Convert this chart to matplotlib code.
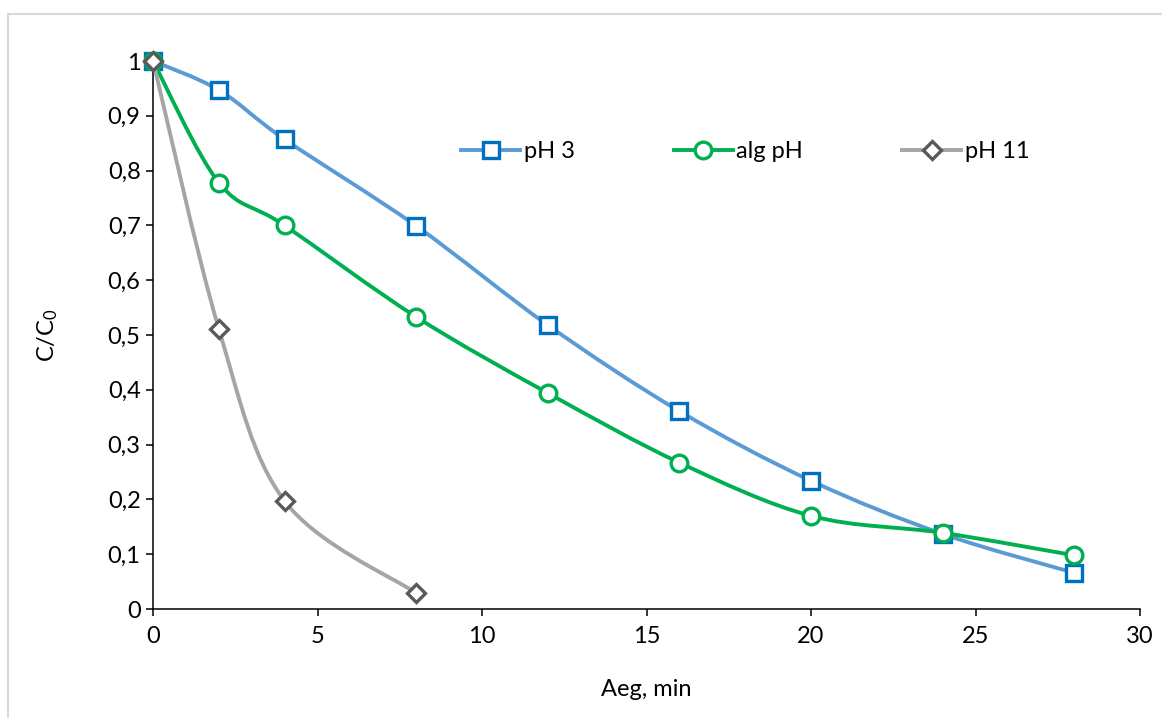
import matplotlib
matplotlib.use('Agg')
import matplotlib.pyplot as plt
from matplotlib.path import Path
from matplotlib.patches import PathPatch
from matplotlib.lines import Line2D

plt.rcParams['font.family'] = ['Lato', 'DejaVu Sans']
plt.rcParams['mathtext.default'] = 'regular'

# andmed
time = [0, 2, 4, 8, 12, 16, 20, 24, 28]
ph3 = [1.0, 0.947, 0.857, 0.699, 0.518, 0.361, 0.234, 0.137, 0.066]
alg_ph = [1.0, 0.778, 0.700, 0.533, 0.394, 0.267, 0.170, 0.139, 0.098]
time_ph11 = [0, 2, 4, 8]
ph11 = [1.0, 0.511, 0.197, 0.029]


def smooth_path(x, y):
    # Excel-laadne sujuv joon (Bezier, Catmull-Rom kontrollpunktid)
    verts = [(x[0], y[0])]
    codes = [Path.MOVETO]
    n = len(x)
    for i in range(n - 1):
        x0, y0 = (x[i - 1], y[i - 1]) if i > 0 else (x[i], y[i])
        x3, y3 = (x[i + 2], y[i + 2]) if i + 2 < n else (x[i + 1], y[i + 1])
        c1 = (x[i] + (x[i + 1] - x0) / 6, y[i] + (y[i + 1] - y0) / 6)
        c2 = (x[i + 1] - (x3 - x[i]) / 6, y[i + 1] - (y3 - y[i]) / 6)
        verts += [c1, c2, (x[i + 1], y[i + 1])]
        codes += [Path.CURVE4] * 3
    return Path(verts, codes)


fig = plt.figure(figsize=(11.62, 7.18), dpi=100)
ax = fig.add_axes([0.1317, 0.1518, 0.8494, 0.7632])

series = [
    (time, ph3, 'pH 3', '#5B9BD5', 's', '#0070C0', 11),
    (time, alg_ph, 'alg pH', '#00B050', 'o', '#00B050', 12),
    (time_ph11, ph11, 'pH 11', '#A5A5A5', 'D', '#595959', 9.5),
]

handles = []
for k, (xs, ys, label, lc, mk, mc, ms) in enumerate(series):
    patch = PathPatch(smooth_path(xs, ys), facecolor='none', edgecolor=lc,
                      lw=2.8, zorder=3 + 2 * k, capstyle='round')
    ax.add_patch(patch)
    ax.plot(xs, ys, linestyle='none', marker=mk, ms=ms, mfc='white',
            mec=mc, mew=2.4, zorder=4 + 2 * k, clip_on=False)
    handles.append(Line2D([], [], color=lc, lw=2.8, marker=mk, ms=ms,
                          mfc='white', mec=mc, mew=2.4, label=label))

ax.set_xlim(0, 30)
ax.set_ylim(0, 1)
ax.set_xticks(range(0, 31, 5))
yt = [i / 10 for i in range(11)]
ax.set_yticks(yt)
ax.set_yticklabels(['0'] + [('%.1f' % v).replace('.', ',') for v in yt[1:-1]] + ['1'])

for s in ['top', 'right']:
    ax.spines[s].set_visible(False)
for s in ['left', 'bottom']:
    ax.spines[s].set_linewidth(1.1)
    ax.spines[s].set_zorder(2)
ax.tick_params(axis='both', length=5, width=1.1, labelsize=17)
ax.tick_params(axis='y', pad=4)
ax.tick_params(axis='x', pad=7)

ax.set_xlabel('Aeg, min', fontsize=17, labelpad=23)
ax.set_ylabel('C/C$_0$', fontsize=17, labelpad=34)

ax.legend(handles=handles, loc='center', bbox_to_anchor=(0.60, 0.834), ncol=3,
          frameon=False, fontsize=17, handlelength=2.5, handletextpad=0.15,
          columnspacing=4.2)

# hall raam ümber joonise
fig.add_artist(Line2D([0.0069, 0.0069], [0, 0.9805], transform=fig.transFigure,
                      color='#D9D9D9', lw=1.5))
fig.add_artist(Line2D([0.0069, 1.0], [0.9805, 0.9805], transform=fig.transFigure,
                      color='#D9D9D9', lw=1.5))

fig.savefig('out.png', dpi=100)
